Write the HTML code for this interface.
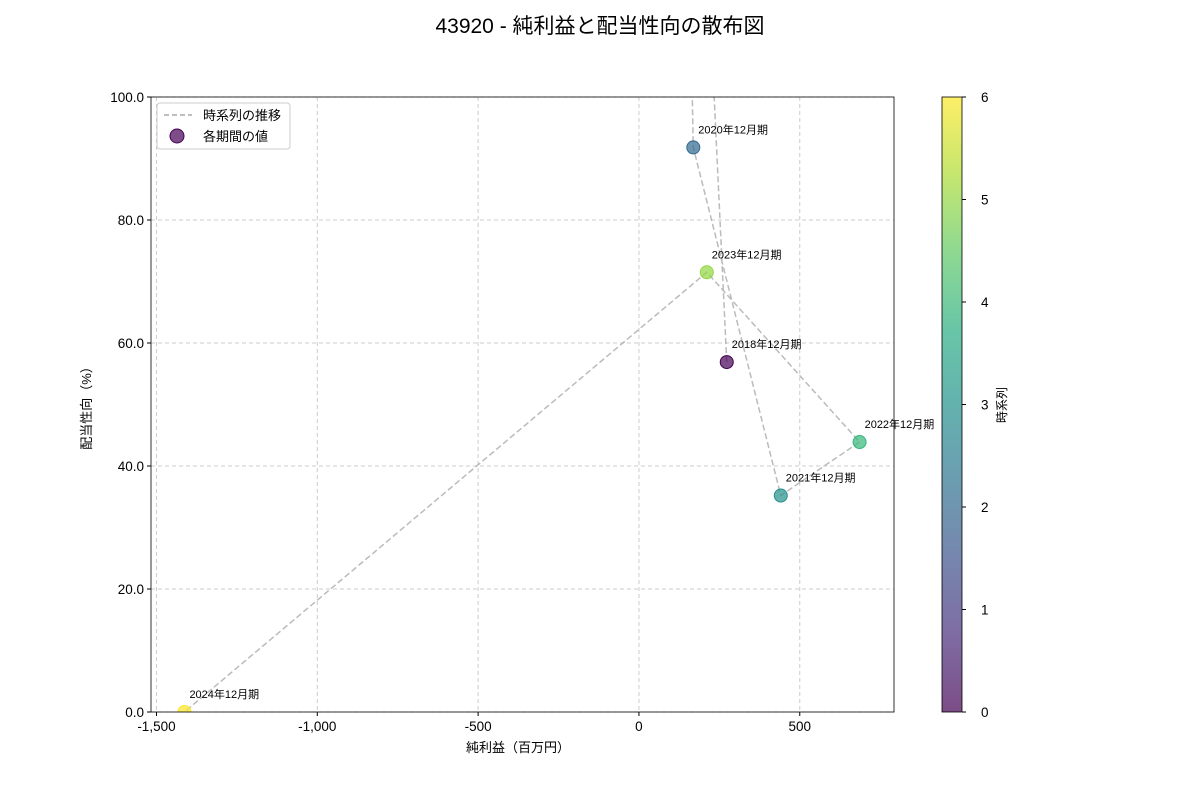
<!DOCTYPE html>
<html><head><meta charset="utf-8"><style>
body{margin:0;background:#fff;}
svg text{font-family:"Liberation Sans","Noto Sans CJK JP",sans-serif;}
</style></head><body>
<svg width="1200" height="800" xmlns="http://www.w3.org/2000/svg" id="chart">
<defs>
<linearGradient id="vir" x1="0" y1="1" x2="0" y2="0">
<stop offset="0" stop-color="#440154"/><stop offset="0.125" stop-color="#472d7b"/><stop offset="0.25" stop-color="#3b528b"/><stop offset="0.375" stop-color="#2c728e"/><stop offset="0.5" stop-color="#21918c"/><stop offset="0.625" stop-color="#28ae80"/><stop offset="0.75" stop-color="#5ec962"/><stop offset="0.875" stop-color="#addc30"/><stop offset="1" stop-color="#fde725"/>
</linearGradient>
<clipPath id="plotclip"><rect x="151" y="97" width="743" height="615"/></clipPath>
</defs>
<text x="600" y="33" text-anchor="middle" font-size="21" fill="#000">43920 - 純利益と配当性向の散布図</text>
<g id="grid"></g>
<g id="series" clip-path="url(#plotclip)"></g>
<rect x="151" y="97" width="743" height="615" fill="none" stroke="#000" stroke-width="0.8"/>
<g id="axes"></g>
<text x="518" y="752" text-anchor="middle" font-size="13">純利益（百万円）</text>
<text transform="translate(91,405) rotate(-90)" text-anchor="middle" font-size="13">配当性向（%）</text>
<g>
<rect x="157" y="103" width="133" height="46" rx="3" fill="#fff" fill-opacity="0.8" stroke="#ccc"/>
<line x1="164" y1="115" x2="192" y2="115" stroke="#aaa" stroke-width="1.5" stroke-dasharray="5,3"/>
<text x="203" y="120" font-size="13">時系列の推移</text>
<circle cx="177" cy="136" r="7" fill="#440154" fill-opacity="0.7" stroke="#440154"/>
<text x="203" y="141" font-size="13">各期間の値</text>
</g>
<rect x="942" y="97" width="20" height="615" fill="url(#vir)" opacity="0.7"/>
<rect x="942" y="97" width="20" height="615" fill="none" stroke="#000" stroke-width="0.8"/>
<g id="cbar"></g>
<text transform="translate(1006,405) rotate(-90)" text-anchor="middle" font-size="12">時系列</text>
</svg>
<script>
const labels=["2018年12月期","2019年12月期","2020年12月期","2021年12月期","2022年12月期","2023年12月期","2024年12月期"];
const netIncome=[273,115,169,441,686,211,-1413];
const payout=[56.9,231,91.8,35.2,43.9,71.5,0];
const xTicks=[-1500,-1000,-500,0,500];
const yTicks=[0,20,40,60,80,100];
const cTicks=[0,1,2,3,4,5,6];
const NS="http://www.w3.org/2000/svg";
const X0=151,X1=894,Y0=712,Y1=97,XMIN=-1517,XMAX=793,YMIN=0,YMAX=100;
function sx(v){return X0+(v-XMIN)/(XMAX-XMIN)*(X1-X0);}
function sy(v){return Y0-(v-YMIN)/(YMAX-YMIN)*(Y0-Y1);}
function cy(v){return 712-v/6*615;}
const vir=["#440154","#482878","#3e4989","#31688e","#26828e","#1f9e89","#35b779","#6ece58","#b5de2b","#fde725"];
function viridis(t){const i=t*(vir.length-1),a=Math.floor(i),b=Math.min(a+1,vir.length-1),f=i-a;
 const h=c=>[1,3,5].map(k=>parseInt(c.substr(k,2),16));const A=h(vir[a]),B=h(vir[b]);
 return "rgb("+A.map((x,k)=>Math.round(x+(B[k]-x)*f)).join(",")+")";}
function mk(tag,attrs,parent,text){const e=document.createElementNS(NS,tag);for(const k in attrs)e.setAttribute(k,attrs[k]);if(text!==undefined)e.textContent=text;parent.appendChild(e);return e;}
const grid=document.getElementById("grid"),axes=document.getElementById("axes"),series=document.getElementById("series"),cbar=document.getElementById("cbar");
xTicks.forEach(t=>{
 const g=mk("line",{x1:sx(t),x2:sx(t),y1:Y1,y2:Y0,stroke:"#ccc","stroke-dasharray":"4,3"},grid);
 
 
 const tk=mk("line",{x1:sx(t),x2:sx(t),y1:Y0,y2:Y0+4,stroke:"#000"},axes);
 
 
 const tx=mk("text",{x:sx(t),y:Y0+19,"text-anchor":"middle","font-size":"13.5"},axes,t.toLocaleString("en-US"));
 
 
});
yTicks.forEach(t=>{
 const g=mk("line",{x1:X0,x2:X1,y1:sy(t),y2:sy(t),stroke:"#ccc","stroke-dasharray":"4,3"},grid);
 
 
 const tk=mk("line",{x1:X0-4,x2:X0,y1:sy(t),y2:sy(t),stroke:"#000"},axes);
 
 
 const tx=mk("text",{x:X0-7,y:sy(t)+5,"text-anchor":"end","font-size":"13.5"},axes,t.toFixed(1));
 
 
});
cTicks.forEach(t=>{
 const tk=mk("line",{x1:962,x2:966,y1:cy(t),y2:cy(t),stroke:"#000"},cbar);
 
 
 const tx=mk("text",{x:981,y:cy(t)+5,"font-size":"13.5"},cbar,String(t));
 
 
});
const pts=netIncome.map((v,i)=>sx(v)+","+sy(payout[i])).join(" ");
const line=mk("polyline",{points:pts,fill:"none",stroke:"#aaa","stroke-width":"1.5","stroke-dasharray":"6,3","stroke-opacity":"0.8"},series);


netIncome.forEach((v,i)=>{
 const col=viridis(i/(netIncome.length-1));
 const c=mk("circle",{cx:sx(v),cy:sy(payout[i]),r:6.5,fill:col,"fill-opacity":"0.7",stroke:col},series);
 
 
 if(payout[i]<=YMAX){
  const t=mk("text",{x:sx(v)+5,y:sy(payout[i])-14,"font-size":"11"},document.getElementById("chart"),labels[i]);
  
  
 }
});
</script>
</body></html>
